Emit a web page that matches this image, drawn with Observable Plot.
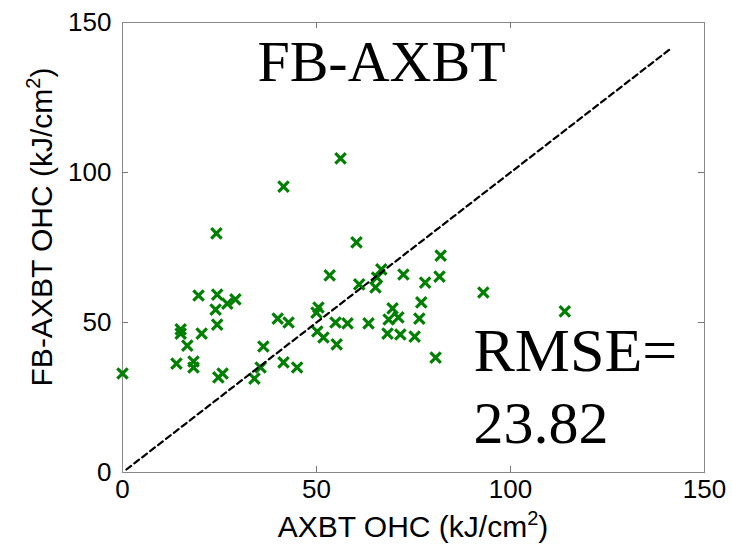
<!DOCTYPE html>
<html><head><meta charset="utf-8">
<script src="https://cdn.jsdelivr.net/npm/d3@7"></script>
<script src="https://cdn.jsdelivr.net/npm/@observablehq/plot@0.6"></script>
<style>body{margin:0;background:#fff}</style>
</head><body><div id="chart"></div>
<script>
// AXBT OHC (x) and FB-AXBT OHC (y), kJ/cm^2
const axbtOHC = [0, 24.2, 41.5, 56.2, 19.6, 24.4, 29.1, 27, 24, 24.4, 15, 15, 20.4, 16.7, 13.9, 18.3, 18.3, 24.7, 25.8,
  40, 42.8, 36.3, 41.5, 45, 35.6, 34, 60.3, 53.4, 61, 66.7, 65.6, 65.2, 72.4, 78, 82, 81.7, 93,
  50.5, 50, 54.9, 58, 63.4, 50.2, 51.8, 55.2, 69.6, 68.6, 71.1, 68.3, 71.6, 75.3, 76.5, 77, 80.7, 114];
const fbaxbtOHC = [33, 79.7, 95.3, 104.7, 59, 59.3, 57.7, 56.3, 54.3, 49.3, 47.7, 46.3, 46.3, 42.3, 36.3, 37, 35, 31.7, 33,
  51.3, 50, 42, 36.7, 35, 35, 31.3, 76.7, 65.7, 62.7, 67.7, 65, 61.7, 66, 63.3, 72.3, 65.3, 60,
  55, 53.3, 50, 49.7, 49.7, 47, 45, 42.7, 54.7, 51, 51.7, 46.3, 46, 45.3, 51.3, 56.7, 38.3, 53.7];
const tickValues = [0, 50, 100, 150];
const innerTicks = [50, 100];
const oneToOne = [1, 141];
const titleText = "FB-AXBT";
const rmseLabel = "RMSE=";
const rmseValue = "23.82";
const xLabel = "AXBT OHC (kJ/cm";
const yLabel = "FB-AXBT OHC (kJ/cm";

const points = axbtOHC.map((x, i) => ({x, y: fbaxbtOHC[i]}));
const diag = oneToOne.map(v => ({x: v, y: v}));

const W = 732, H = 553, mL = 122, mR = 28, mT = 22, mB = 81;
const pw = W - mL - mR, ph = H - mT - mB, tl = 6;
const serif = "'Liberation Serif', 'Times New Roman', serif";

const plot = Plot.plot({
  width: W, height: H,
  marginLeft: mL, marginRight: mR, marginTop: mT, marginBottom: mB,
  style: {fontFamily: "'Liberation Sans', Arial, sans-serif", fontSize: "26px", color: "#000", background: "#fff"},
  x: {domain: [0, 150]},
  y: {domain: [0, 150]},
  marks: [
    Plot.frame({stroke: "#888"}),
    Plot.tickX(innerTicks, {x: d => d, insetTop: ph - tl, stroke: "#777"}),
    Plot.tickX(innerTicks, {x: d => d, insetBottom: ph - tl, stroke: "#777"}),
    Plot.tickY(innerTicks, {y: d => d, insetRight: pw - tl, stroke: "#777"}),
    Plot.tickY(innerTicks, {y: d => d, insetLeft: pw - tl, stroke: "#777"}),
    Plot.axisX({ticks: tickValues, tickSize: 0, tickPadding: 7, label: null, fontSize: 26}),
    Plot.axisY({ticks: tickValues, tickSize: 0, tickPadding: 11, label: null, fontSize: 26}),
    Plot.dot(points, {x: "x", y: "y", symbol: "times", r: 4.8, stroke: "#008000", strokeWidth: 3.2}),
    Plot.line(diag, {x: "x", y: "y", stroke: "#000", strokeWidth: 2.2, strokeDasharray: "6,4"}),
    Plot.text([titleText], {frameAnchor: "top-left", text: d => d, dx: 259, dy: 58, textAnchor: "middle", lineAnchor: "bottom", fontFamily: serif, fontSize: 58, fill: "#000"}),
    Plot.text([rmseLabel], {frameAnchor: "top-left", text: d => d, dx: 351, dy: 348, textAnchor: "start", lineAnchor: "bottom", fontFamily: serif, fontSize: 62, fill: "#000"}),
    Plot.text([rmseValue], {frameAnchor: "top-left", text: d => d, dx: 351, dy: 420, textAnchor: "start", lineAnchor: "bottom", fontFamily: serif, fontSize: 60, fill: "#000"})
  ]
});

const svg = d3.select(plot);
const xl = svg.append("text")
  .attr("x", mL + pw / 2).attr("y", 537)
  .attr("text-anchor", "middle").style("font-size", "30px").attr("fill", "#000");
xl.append("tspan").text(xLabel);
xl.append("tspan").attr("dy", -12).style("font-size", "20px").text("2");
xl.append("tspan").attr("dy", 12).text(")");

const yl = svg.append("text")
  .attr("transform", `translate(52,${mT + ph / 2 - 20}) rotate(-90)`)
  .attr("text-anchor", "middle").style("font-size", "30px").attr("fill", "#000");
yl.append("tspan").text(yLabel);
yl.append("tspan").attr("dy", -12).style("font-size", "20px").text("2");
yl.append("tspan").attr("dy", 12).text(")");

document.getElementById("chart").appendChild(plot);
</script>
</body></html>
